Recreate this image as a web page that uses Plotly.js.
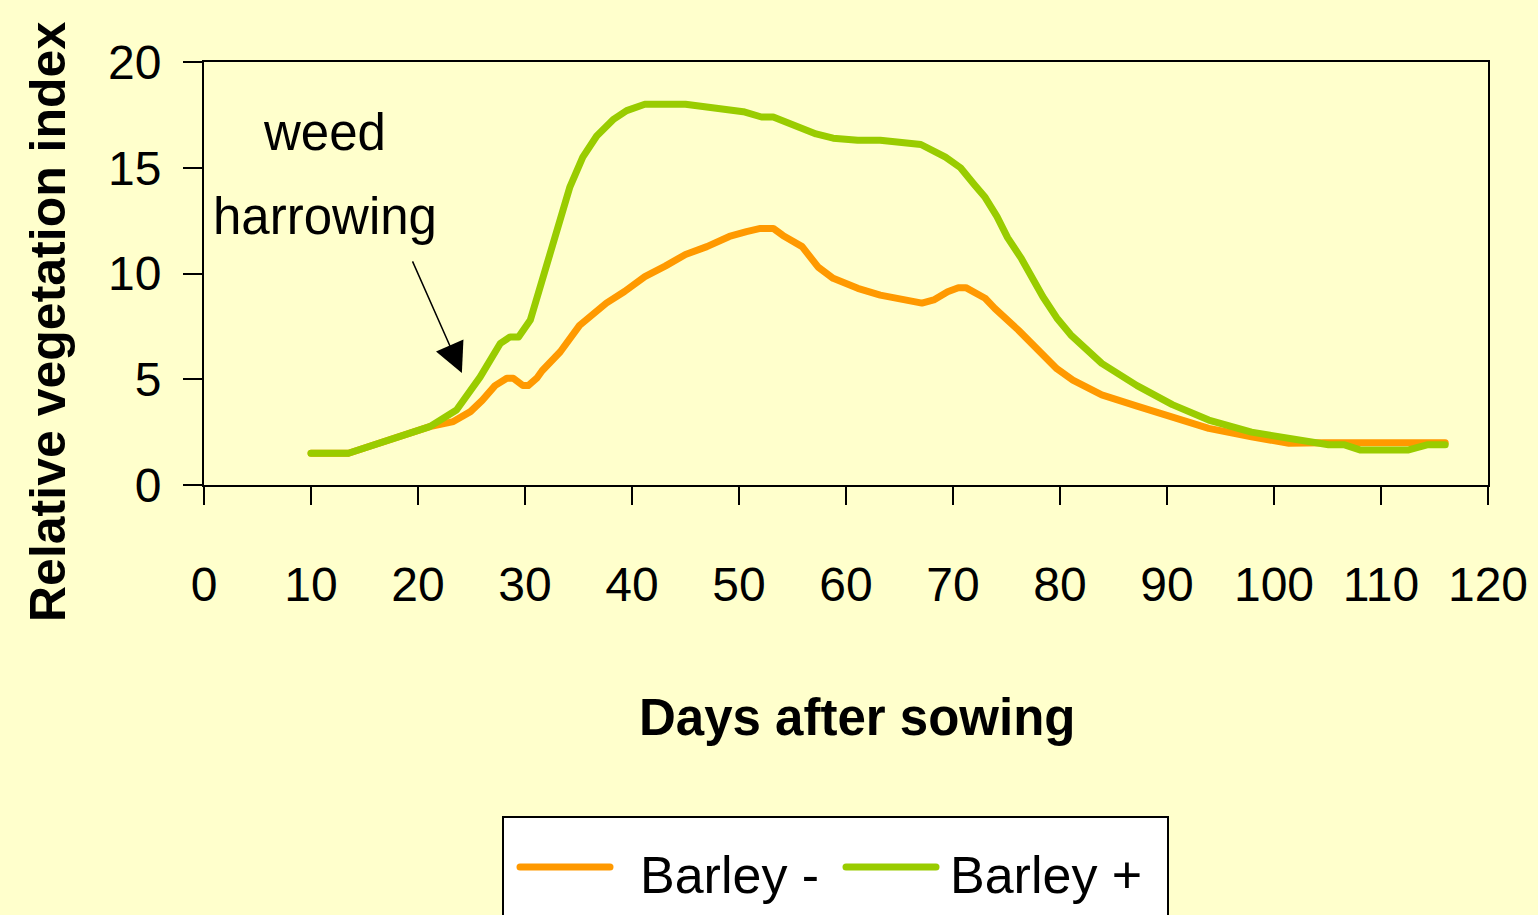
<!DOCTYPE html>
<html>
<head>
<meta charset="utf-8">
<script src="https://cdn.plot.ly/plotly-3.0.1.min.js"></script>
<style>
html,body{margin:0;padding:0;background:#FFFFCC;}
#chart{width:1538px;height:915px;}
#chart .scatterlayer path.js-line{stroke-linecap:round;}
</style>
</head>
<body>
<div id="chart"></div>
<script>
// ---- data ----
const seriesNames = ["Barley -", "Barley +"];
const barleyMinusX = [10, 13.5, 21.1, 23.3, 24.9, 26.0, 27.2, 28.3, 28.9, 29.8, 30.3, 31.1, 31.6, 33.3, 35.1, 37.6, 39.3, 41.2, 43.1, 45.0, 47.0, 49.1, 50.7, 52.0, 53.2, 54.1, 55.9, 57.4, 58.8, 61.1, 63.2, 65.1, 67.1, 68.2, 69.5, 70.5, 71.2, 73.0, 73.9, 76.1, 78.4, 79.7, 81.2, 83.9, 87.2, 90.5, 93.9, 97.9, 101.4, 104.7, 108.1, 112.3, 116];
const barleyMinusY = [1.5, 1.5, 2.76, 3.0, 3.47, 4.0, 4.7, 5.05, 5.05, 4.7, 4.7, 5.05, 5.4, 6.3, 7.55, 8.6, 9.15, 9.85, 10.35, 10.9, 11.27, 11.75, 11.98, 12.13, 12.13, 11.8, 11.27, 10.3, 9.77, 9.3, 8.98, 8.83, 8.6, 8.75, 9.14, 9.33, 9.33, 8.83, 8.35, 7.33, 6.15, 5.5, 4.96, 4.26, 3.73, 3.23, 2.68, 2.28, 1.97, 2.0, 2.0, 2.0, 2.0];
const barleyPlusX = [10, 13.5, 21.1, 23.6, 25.8, 27.7, 28.6, 29.4, 30.5, 31.4, 32.3, 33.3, 34.2, 35.4, 36.7, 38.3, 39.5, 41.2, 45.0, 50.4, 52.1, 53.2, 55.7, 57.2, 58.8, 61.1, 63.2, 65.3, 67.0, 69.3, 70.7, 72.0, 73.0, 74.1, 75.1, 76.4, 78.4, 79.7, 81.0, 83.9, 87.2, 90.5, 93.9, 97.9, 101.8, 105.1, 106.6, 108.1, 112.5, 114.3, 116];
const barleyPlusY = [1.5, 1.5, 2.76, 3.55, 5.1, 6.7, 7.0, 7.0, 7.8, 9.4, 10.8, 12.5, 14.1, 15.5, 16.5, 17.3, 17.7, 18.0, 18.0, 17.65, 17.4, 17.4, 16.9, 16.6, 16.4, 16.3, 16.3, 16.15, 16.1, 15.5, 15.0, 14.2, 13.6, 12.7, 11.7, 10.7, 8.9, 7.9, 7.1, 5.75, 4.7, 3.8, 3.07, 2.5, 2.2, 1.9, 1.9, 1.65, 1.65, 1.9, 1.9];
const xTickVals = [0, 10, 20, 30, 40, 50, 60, 70, 80, 90, 100, 110, 120];
const yTickVals = [0, 5, 10, 15, 20];
const xTitle = "Days after sowing";
const yTitle = "Relative vegetation index";
const noteLines = ["weed", "harrowing"];
const arrowDay = 24.1, arrowValue = 5.3;

// ---- styling / layout ----
const colors = ["#FF9900", "#99CC00"];
const FONT = "Liberation Sans, Arial, sans-serif";
const L = 204, R = 1488, T = 62, B = 485;
const px = v => (v - L) / (R - L);
const py = v => (B - v) / (B - T);

const traces = [
  {x: barleyMinusX, y: barleyMinusY, name: seriesNames[0], type: "scatter", mode: "lines",
   line: {color: colors[0], width: 7}, showlegend: false, hoverinfo: "x+y"},
  {x: barleyPlusX, y: barleyPlusY, name: seriesNames[1], type: "scatter", mode: "lines",
   line: {color: colors[1], width: 7}, showlegend: false, hoverinfo: "x+y"}
];

const annotations = [
  {xref: "paper", yref: "paper", x: px(48), y: py(322), text: "<b>" + yTitle + "</b>", textangle: -90,
   showarrow: false, xanchor: "center", yanchor: "middle", font: {family: FONT, size: 50, color: "#000"}},
  {xref: "paper", yref: "paper", x: px(857), y: py(717), text: "<b>" + xTitle + "</b>",
   showarrow: false, xanchor: "center", yanchor: "middle", font: {family: FONT, size: 51, color: "#000"}},
  {xref: "paper", yref: "paper", x: px(324), y: py(132), text: noteLines[0],
   showarrow: false, xanchor: "center", yanchor: "middle", font: {family: FONT, size: 51, color: "#000"}},
  {xref: "paper", yref: "paper", x: px(325), y: py(216), text: noteLines[1],
   showarrow: false, xanchor: "center", yanchor: "middle", font: {family: FONT, size: 51, color: "#000"}},
  {x: arrowDay, y: arrowValue, xref: "x", yref: "y", text: "", showarrow: true,
   ax: -50, ay: -113, arrowhead: 2, arrowsize: 4, arrowwidth: 1.5, arrowcolor: "#000"},
  // legend labels
  {xref: "paper", yref: "paper", x: px(638), y: py(875), text: seriesNames[0],
   showarrow: false, xanchor: "left", yanchor: "middle", font: {family: FONT, size: 52, color: "#000"}},
  {xref: "paper", yref: "paper", x: px(948), y: py(875), text: seriesNames[1],
   showarrow: false, xanchor: "left", yanchor: "middle", font: {family: FONT, size: 52, color: "#000"}}
];

const shapes = [
  {type: "rect", xref: "paper", yref: "paper", x0: px(503), x1: px(1168), y0: py(817), y1: py(960),
   fillcolor: "#FFFFFF", line: {color: "#000", width: 2}, layer: "above"},
  {type: "line", xref: "paper", yref: "paper", x0: px(520), x1: px(610), y0: py(867), y1: py(867),
   line: {color: colors[0], width: 7}, layer: "above"},
  {type: "line", xref: "paper", yref: "paper", x0: px(846), x1: px(936), y0: py(867), y1: py(867),
   line: {color: colors[1], width: 7}, layer: "above"}
];

const layout = {
  width: 1538, height: 915,
  margin: {l: L, r: 1538 - R, t: T, b: 915 - B, pad: 0},
  paper_bgcolor: "#FFFFCC", plot_bgcolor: "#FFFFCC",
  showlegend: false,
  xaxis: {range: [0, 120], tickvals: xTickVals, ticks: "outside", ticklen: 18, tickwidth: 2, tickcolor: "#000",
          showline: true, linecolor: "#000", linewidth: 2, mirror: true, showgrid: false, zeroline: false,
          ticklabelstandoff: 38, tickfont: {family: FONT, size: 48, color: "#000"}, fixedrange: true},
  yaxis: {range: [0, 20], tickvals: yTickVals, ticks: "outside", ticklen: 19, tickwidth: 2, tickcolor: "#000",
          showline: true, linecolor: "#000", linewidth: 2, mirror: true, showgrid: false, zeroline: false,
          ticklabelstandoff: 12, tickfont: {family: FONT, size: 48, color: "#000"}, fixedrange: true},
  annotations: annotations,
  shapes: shapes
};

Plotly.newPlot("chart", traces, layout, {displayModeBar: false, staticPlot: true}).then(gd => {
  gd.querySelectorAll(".shapelayer path").forEach(p => p.style.strokeLinecap = "round");
  gd.querySelectorAll(".scatterlayer path.js-line").forEach(p => { p.style.strokeLinecap = "round"; p.style.strokeLinejoin = "round"; });
});
</script>
</body>
</html>
